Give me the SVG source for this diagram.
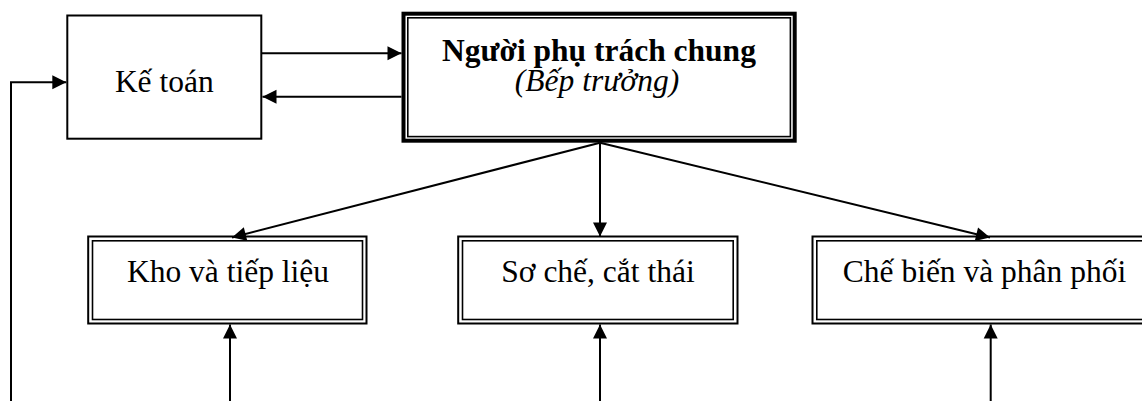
<svg xmlns="http://www.w3.org/2000/svg" width="1142" height="401" viewBox="0 0 1142 401">
<style>
text{font-family:"Liberation Serif","Times New Roman",serif;font-size:31.5px;fill:#000;text-anchor:middle}
.b{font-weight:bold}
.i{font-style:italic}
.box{fill:#fff;stroke:#000;stroke-width:2}
.thin{fill:none;stroke:#000;stroke-width:1.6}
.thick{fill:#fff;stroke:#000;stroke-width:4}
.c line,.c polyline{stroke:#000;stroke-width:2;fill:none}
</style>
<defs>
<marker id="ah" markerUnits="userSpaceOnUse" markerWidth="16" markerHeight="16" viewBox="0 0 16 16" refX="15" refY="8" orient="auto">
<path d="M1,1 L15,8 L1,15 Z" fill="#000"/>
</marker>
</defs>
<g id="ketoan">
<rect class="box" x="67.3" y="15.5" width="194" height="123.2"/>
<text x="164.3" y="91.7">Kế toán</text>
</g>
<g id="bep-truong">
<rect class="thick" x="403.5" y="13.7" width="391.2" height="127"/>
<rect class="thin" x="407.8" y="17.8" width="382.6" height="118.8"/>
<text class="b" x="599" y="61">Người phụ trách chung</text>
<text class="i" x="597" y="90.7">(Bếp trưởng)</text>
</g>
<g id="kho">
<rect class="box" x="88.2" y="236.5" width="278.3" height="87" stroke-width="1.6"/>
<rect class="thin" x="92.5" y="240.8" width="270" height="78.7"/>
<text x="228" y="282">Kho và tiếp liệu</text>
</g>
<g id="soche">
<rect class="box" x="458.2" y="236.5" width="279.3" height="87" stroke-width="1.6"/>
<rect class="thin" x="462.5" y="240.8" width="270.7" height="78.7"/>
<text x="598" y="282">Sơ chế, cắt thái</text>
</g>
<g id="chebien">
<rect class="box" x="812.5" y="236.5" width="360" height="87" stroke-width="1.6"/>
<rect class="thin" x="816.8" y="240.8" width="351.4" height="78.7"/>
<text x="984.5" y="282">Chế biến và phân phối</text>
</g>
<g class="c" id="connectors">
<line x1="262" y1="53.3" x2="401.5" y2="53.3" marker-end="url(#ah)"/>
<line x1="401.5" y1="96.7" x2="262.5" y2="96.7" marker-end="url(#ah)"/>
<polyline points="11,401 11,82.3 66.3,82.3" marker-end="url(#ah)"/>
<line x1="600" y1="142.7" x2="232" y2="237.5" marker-end="url(#ah)"/>
<line x1="600" y1="142.7" x2="600" y2="236.5" marker-end="url(#ah)"/>
<line x1="600" y1="142.7" x2="990" y2="237.5" marker-end="url(#ah)"/>
<line x1="230" y1="401" x2="230" y2="324.5" marker-end="url(#ah)"/>
<line x1="600" y1="401" x2="600" y2="324.5" marker-end="url(#ah)"/>
<line x1="990.7" y1="401" x2="990.7" y2="324.5" marker-end="url(#ah)"/>
</g>
</svg>
